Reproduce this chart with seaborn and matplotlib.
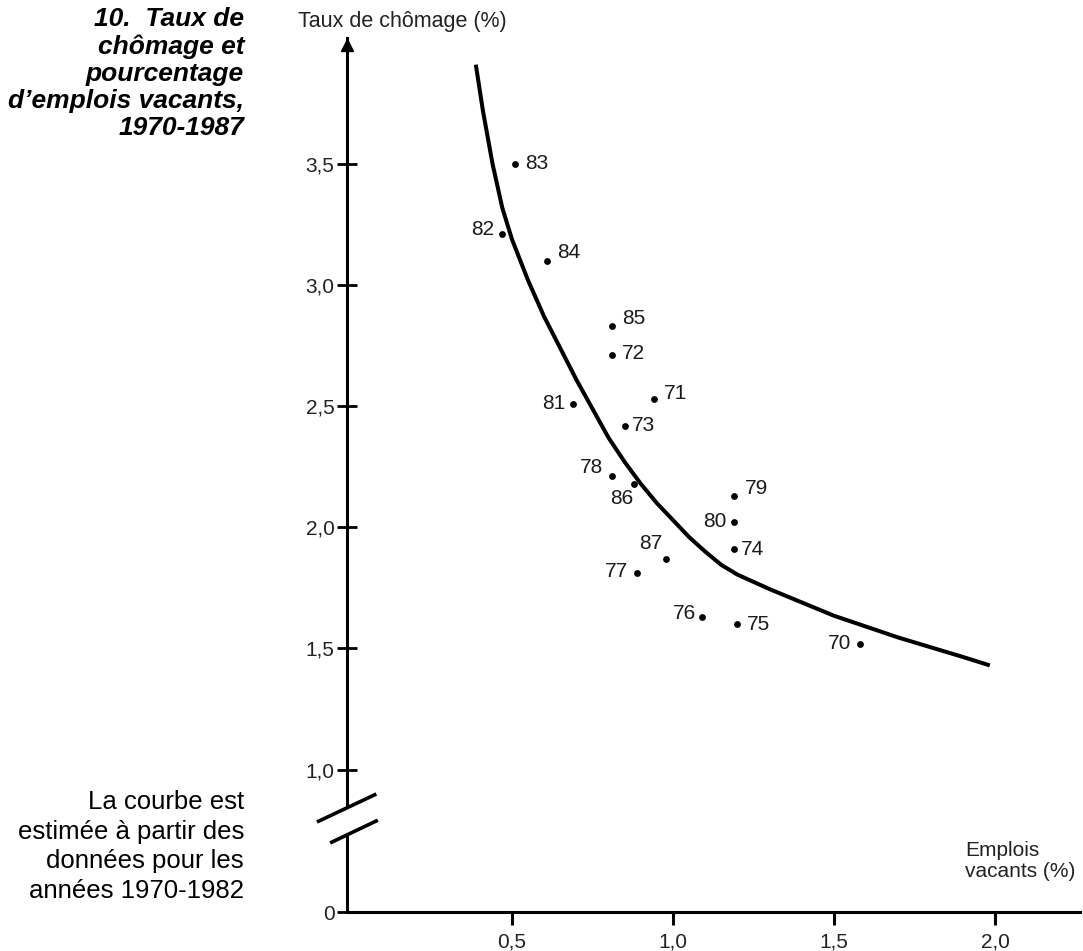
import numpy as np
import matplotlib
matplotlib.use("Agg")
import matplotlib.pyplot as plt
import seaborn as sns
import pandas as pd

# Observed points: year label, vacancy rate (%), unemployment rate (%)
years = ["70", "71", "72", "73", "74", "75", "76", "77", "78", "79",
         "80", "81", "82", "83", "84", "85", "86", "87"]
vacancies = [1.58, 0.94, 0.81, 0.85, 1.19, 1.20, 1.09, 0.89, 0.81, 1.19,
             1.19, 0.69, 0.47, 0.51, 0.61, 0.81, 0.88, 0.98]
unemployment = [1.52, 2.53, 2.71, 2.42, 1.91, 1.60, 1.63, 1.81, 2.21, 2.13,
                2.02, 2.51, 3.21, 3.50, 3.10, 2.83, 2.18, 1.87]

# Estimated curve (1970-1982)
curve_x = [0.388, 0.41, 0.44, 0.47, 0.50, 0.55, 0.60, 0.65, 0.70, 0.75,
           0.80, 0.85, 0.90, 0.95, 1.00, 1.05, 1.10, 1.15, 1.20, 1.25,
           1.30, 1.40, 1.50, 1.60, 1.70, 1.80, 1.90, 1.984]
curve_y = [3.91, 3.72, 3.50, 3.32, 3.19, 3.02, 2.87, 2.74, 2.61, 2.49,
           2.37, 2.27, 2.18, 2.10, 2.03, 1.96, 1.90, 1.845, 1.805, 1.775,
           1.745, 1.69, 1.635, 1.59, 1.545, 1.505, 1.465, 1.43]

yticks = [0, 1.0, 1.5, 2.0, 2.5, 3.0, 3.5]
ytick_labels = ["0", "1,0", "1,5", "2,0", "2,5", "3,0", "3,5"]
xticks = [0.5, 1.0, 1.5, 2.0]
xtick_labels = ["0,5", "1,0", "1,5", "2,0"]

# label placement (pixels offset from the dot, alignment)
label_pos = {
    "70": (-8, 0, "right"), "71": (10, 5, "left"), "72": (10, 2, "left"),
    "73": (7, 0, "left"), "74": (7, 0, "left"), "75": (10, 0, "left"),
    "76": (-6, 3, "right"), "77": (-9, 2, "right"), "78": (-9, 9, "right"),
    "79": (11, 7, "left"), "80": (-8, 1, "right"), "81": (-8, 0, "right"),
    "82": (-8, 5, "right"), "83": (10, 0, "left"), "84": (10, 8, "left"),
    "85": (10, 8, "left"), "86": (-13, -15, "center"), "87": (-16, 15, "center"),
}

df = pd.DataFrame({"year": years, "vac": vacancies, "unemp": unemployment})
df_curve = pd.DataFrame({"vac": curve_x, "unemp": curve_y})

sns.set_theme(style="white")
plt.rcParams["font.family"] = ["Liberation Sans", "DejaVu Sans"]

fig = plt.figure(figsize=(10.83, 9.51), dpi=100)
ax = fig.add_axes([347 / 1083, 39 / 951, 733 / 1083, 874 / 951])

# compressed scale below 1.0 (axis break)
k = 0.588
def fwd(y):
    y = np.asarray(y, dtype=float)
    return np.where(y >= 1, y, 1 - (1 - y) * k)
def inv(t):
    t = np.asarray(t, dtype=float)
    return np.where(t >= 1, t, 1 - (1 - t) / k)
ax.set_yscale("function", functions=(fwd, inv))

sns.lineplot(data=df_curve, x="vac", y="unemp", ax=ax, color="black",
             linewidth=2.9, sort=False, estimator=None,
             solid_joinstyle="round", solid_capstyle="butt")
sns.scatterplot(data=df, x="vac", y="unemp", ax=ax, color="black", s=24,
                edgecolor="black", linewidth=0, zorder=3)

for _, r in df.iterrows():
    dx, dy, ha = label_pos[r["year"]]
    ax.annotate(r["year"], (r["vac"], r["unemp"]), xytext=(dx, dy),
                textcoords="offset pixels", ha=ha, va="center",
                fontsize=15, color="#1a1a1a")

ax.set_xlim(-0.012, 2.264)
ax.set_ylim(0, 4.02)
ax.set_xticks(xticks)
ax.set_xticklabels(xtick_labels)
ax.set_yticks(yticks)
ax.set_yticklabels(ytick_labels)
ax.set_xlabel("")
ax.set_ylabel("")

for s in ["top", "right"]:
    ax.spines[s].set_visible(False)
for s in ["left", "bottom"]:
    ax.spines[s].set_linewidth(2.2)
    ax.spines[s].set_color("black")
ax.tick_params(axis="y", direction="inout", length=14, width=2, color="black",
               labelsize=15, labelcolor="#222222", pad=2, left=True)
ax.tick_params(axis="x", direction="out", length=9, width=2.2, color="black",
               labelsize=15, labelcolor="#222222", pad=6, bottom=True)

# arrow head on the y axis
ax.plot([0], [0.992], transform=ax.transAxes, marker="^", ms=8, color="black",
        clip_on=False, zorder=5)

# axis break marks
mask = plt.Polygon([(-0.008, 0.114), (0.008, 0.121), (0.008, 0.093), (-0.008, 0.086)],
                   closed=True, transform=ax.transAxes, facecolor="white",
                   edgecolor="none", clip_on=False, zorder=6)
ax.add_patch(mask)
ax.plot([-0.041, 0.040], [0.103, 0.135], transform=ax.transAxes, color="black",
        lw=2.6, clip_on=False, zorder=7, solid_capstyle="butt")
ax.plot([-0.023, 0.042], [0.079, 0.105], transform=ax.transAxes, color="black",
        lw=2.6, clip_on=False, zorder=7, solid_capstyle="butt")

fig.text(298 / 1083, 1 - 22 / 951, "Taux de chômage (%)", ha="left", va="center",
         fontsize=15.5, color="#222222")
fig.text(965 / 1083, 1 - 861 / 951, "Emplois\nvacants (%)", ha="left", va="center",
         fontsize=15, color="#222222", linespacing=1.1)

fig.text(244 / 1083, 1 - 7 / 951,
         "10.  Taux de\nchômage et\npourcentage\nd\u2019emplois vacants,\n1970-1987",
         ha="right", va="top", multialignment="right", fontsize=19,
         style="italic", weight="bold", color="black", linespacing=1.16)
fig.text(244 / 1083, 1 - 790 / 951,
         "La courbe est\nestimée à partir des\ndonnées pour les\nannées 1970-1982",
         ha="right", va="top", multialignment="right", fontsize=18.5,
         color="black", linespacing=1.3)

fig.savefig("out.png", dpi=100)
